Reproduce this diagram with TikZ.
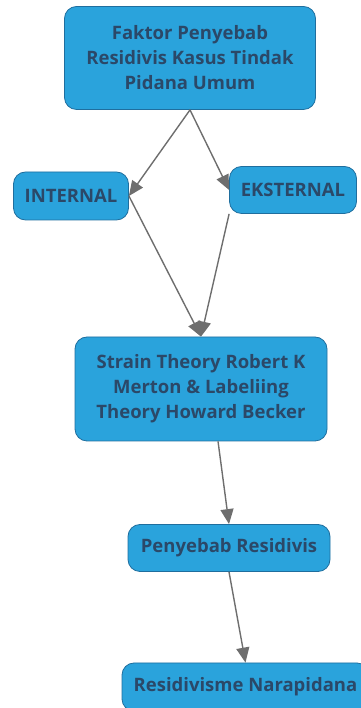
\documentclass[tikz,border=0pt]{standalone}
\usepackage{fontspec}
\setmainfont{Open Sans}
\usetikzlibrary{arrows.meta,positioning}
\definecolor{boxfill}{HTML}{2AA3DC}
\definecolor{boxline}{HTML}{1F6E9E}
\definecolor{boxtext}{HTML}{2B4868}
\definecolor{edgegray}{HTML}{6E6E6E}

\begin{document}
\begin{tikzpicture}[x=1pt,y=1pt,>={Triangle[length=15pt,width=13pt]},
          b/.style={rectangle,rounded corners=12pt,draw=boxline,line width=0.8pt,fill=boxfill,
            text=boxtext,font=\fontsize{18.5}{25}\selectfont\bfseries,align=center,inner sep=0pt},
          e/.style={->,draw=edgegray,line width=1.4pt}]
        \useasboundingbox (0,0) rectangle (360,708);
        \node[b,minimum width=251pt,minimum height=103pt] (top) at (190,650)
          {Faktor Penyebab\\Residivis Kasus Tindak\\Pidana Umum};
        \node[b,minimum width=115pt,minimum height=48pt] (int) at (71,512) {INTERNAL};
        \node[b,minimum width=127pt,minimum height=47pt] (eks) at (293,518) {EKSTERNAL};
        \node[b,minimum width=252pt,minimum height=104pt] (strain) at (201,319)
          {Strain Theory Robert K\\Merton \& Labeliing\\Theory Howard Becker};
        \node[b,minimum width=202pt,minimum height=47pt] (peny) at (229,160) {Penyebab Residivis};
        \node[b,minimum width=247pt,minimum height=48pt] (resi) at (245.5,21) {Residivisme Narapidana};
        \draw[e] (top.south)--(int.east); \draw[e] (top.south)--(eks.west);
        \draw[e] (int.east)--(strain.north); \draw[e] (eks.south west)--(strain.north);
        \draw[e] (strain.288)--(peny.north);
        \draw[e] (peny.south)--(resi.north);
      \end{tikzpicture}
\end{document}
